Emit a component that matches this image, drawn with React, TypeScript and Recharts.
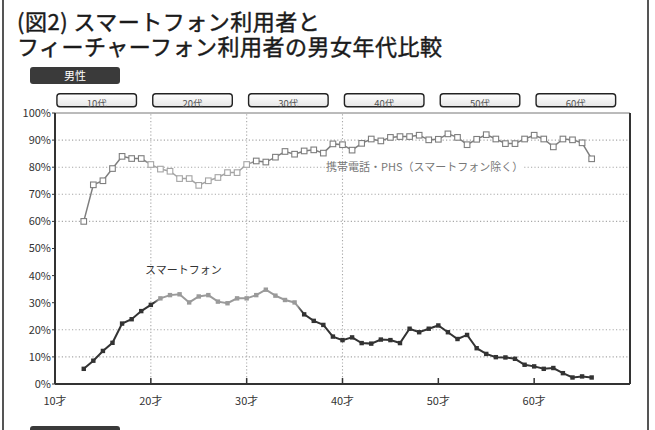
import React from 'react';
import { LineChart, Line, XAxis, YAxis, ReferenceLine, ReferenceArea } from 'recharts';

const ages = [
  13, 14, 15, 16, 17, 18, 19, 20, 21, 22, 23, 24, 25, 26, 27, 28, 29, 30,
  31, 32, 33, 34, 35, 36, 37, 38, 39, 40, 41, 42, 43, 44, 45, 46, 47, 48,
  49, 50, 51, 52, 53, 54, 55, 56, 57, 58, 59, 60, 61, 62, 63, 64, 65, 66,
];

const featurePhone = [
  60, 73.5, 75, 79.5, 84, 83.2, 83.2, 81, 79.3, 78.5, 75.8, 75.8, 73.3, 75, 76.2, 78, 78, 81,
  82.3, 81.9, 83.7, 85.8, 84.8, 86, 86.4, 85.2, 88.6, 88.3, 86.3, 88.8, 90.4, 89.7, 91, 91.3, 91.3, 91.8,
  90.1, 90.3, 92.3, 91, 88.3, 90.3, 92, 90.4, 88.7, 88.7, 90.4, 91.8, 90.4, 87.5, 90.4, 90.1, 89, 83.1,
];

const smartphone = [
  5.6, 8.6, 12.2, 15.2, 22.3, 23.9, 26.9, 29.2, 31.6, 32.8, 33.1, 30.1, 32.3, 32.8, 30.4, 29.8, 31.6, 31.6,
  32.8, 34.8, 32.6, 31.0, 30.1, 25.7, 23.3, 21.8, 17.5, 16.2, 17.2, 15.1, 14.9, 16.4, 16.2, 15.1, 20.4, 19.1,
  20.4, 21.6, 19.1, 16.6, 18.1, 13.2, 11.1, 9.9, 9.8, 9.3, 7.1, 6.5, 5.6, 5.9, 4.0, 2.4, 2.8, 2.4,
];

const yTicks = [0, 10, 20, 30, 40, 50, 60, 70, 80, 90, 100];
const xTicks = [10, 20, 30, 40, 50, 60];
const xTickLabels = ['10才', '20才', '30才', '40才', '50才', '60才'];
const bandLabels = ['10代', '20代', '30代', '40代', '50代', '60代'];
const bandStarts = [10, 20, 30, 40, 50, 60];
const gridY = [10, 20, 60, 70, 80, 90];
const gridX = [20, 30, 40];

const seriesFeatureName = '携帯電話・PHS（スマートフォン除く）';
const seriesSmartName = 'スマートフォン';

const data = ages.map((age, i) => ({ age, feature: featurePhone[i], smart: smartphone[i] }));

const FONT = '"Noto Sans CJK JP", "Noto Sans", sans-serif';

const first = ages[0];
const span = ages[ages.length - 1] - ages[0];
const off = (a: number) => `${(((a - first) / span) * 100).toFixed(2)}%`;

const SM_DARK = '#333333';
const SM_LIGHT = '#9a9a9a';
const FP_DARK = '#7e7e7e';
const FP_LIGHT = '#a4a4a4';

const smColor = (age: number) => (age >= 21 && age <= 35 ? SM_LIGHT : SM_DARK);
const fpColor = (age: number) => (age >= 20 && age <= 30 ? FP_LIGHT : FP_DARK);

const FeatureDot = (props: any) => {
  const { cx, cy, index, payload } = props;
  if (cx == null || cy == null) return <g key={`fd-${index}`} />;
  return (
    <rect
      key={`fd-${index}`}
      x={cx - 2.8}
      y={cy - 2.8}
      width={5.6}
      height={5.6}
      fill="#ffffff"
      stroke={fpColor(payload.age)}
      strokeWidth={1.1}
    />
  );
};

const SmartDot = (props: any) => {
  const { cx, cy, index, payload } = props;
  if (cx == null || cy == null) return <g key={`sd-${index}`} />;
  return (
    <rect
      key={`sd-${index}`}
      x={cx - 2.2}
      y={cy - 2.2}
      width={4.4}
      height={4.4}
      fill={smColor(payload.age)}
    />
  );
};

const makeBand = (label: string, i: number) => (p: any) => {
  const { x, y, width, height } = p;
  if (x == null || y == null) return <g />;
  const id = `bandclip-${i}`;
  return (
    <g>
      <defs>
        <clipPath id={id}>
          <rect x={x} y={y} width={width} height={height} rx={3} ry={3} />
        </clipPath>
      </defs>
      <rect x={x} y={y} width={width} height={height} rx={3} ry={3} fill="url(#bandFill)" stroke="#222" strokeWidth={1.4} />
      <text
        x={x + width / 2}
        y={y + height + 0.5}
        textAnchor="middle"
        fontSize={9.5}
        fill="#555"
        fontFamily={FONT}
        clipPath={`url(#${id})`}
      >
        {label}
      </text>
    </g>
  );
};

export default function App() {
  return (
    <div
      style={{
        position: 'absolute',
        left: 0,
        top: 0,
        width: 655,
        height: 430,
        overflow: 'hidden',
        background: '#ffffff',
        fontFamily: FONT,
      }}
    >
      {/* frame */}
      <div style={{ position: 'absolute', left: 2, top: 0, width: 1.5, height: 430, background: '#555' }} />
      <div style={{ position: 'absolute', left: 647, top: 0, width: 1.5, height: 430, background: '#555' }} />

      {/* title */}
      <div
        style={{
          position: 'absolute',
          left: 17,
          top: 8,
          fontSize: 22,
          lineHeight: '25px',
          fontWeight: 400,
          letterSpacing: 0.5,
          color: '#1a1a1a',
          WebkitTextStroke: '0.45px #1a1a1a',
          whiteSpace: 'nowrap',
        }}
      >
        <div>(図2) スマートフォン利用者と</div>
        <div>フィーチャーフォン利用者の男女年代比較</div>
      </div>

      {/* gender tag */}
      <div
        style={{
          position: 'absolute',
          left: 30,
          top: 67,
          width: 90,
          height: 17,
          borderRadius: 3,
          background: '#3a3a3a',
          color: '#fff',
          fontSize: 11,
          lineHeight: '17px',
          textAlign: 'center',
        }}
      >
        男性
      </div>
      {/* next panel tag (cut off) */}
      <div
        style={{
          position: 'absolute',
          left: 30,
          top: 426,
          width: 90,
          height: 17,
          borderRadius: 3,
          background: '#3a3a3a',
        }}
      />

      <div style={{ position: 'absolute', left: 0, top: 0 }}>
        <LineChart width={655} height={430} data={data} margin={{ top: 113, right: 25, bottom: 16, left: 0 }}>
          <defs>
            <linearGradient id="bandFill" x1="0" y1="0" x2="0" y2="1">
              <stop offset="0%" stopColor="#ffffff" />
              <stop offset="100%" stopColor="#e6e6e6" />
            </linearGradient>
            <linearGradient id="smGrad" x1="0" y1="0" x2="1" y2="0">
              <stop offset={off(20.3)} stopColor={SM_DARK} />
              <stop offset={off(20.8)} stopColor={SM_LIGHT} />
              <stop offset={off(35.3)} stopColor={SM_LIGHT} />
              <stop offset={off(35.8)} stopColor={SM_DARK} />
            </linearGradient>
            <linearGradient id="fpGrad" x1="0" y1="0" x2="1" y2="0">
              <stop offset={off(19.3)} stopColor={FP_DARK} />
              <stop offset={off(19.8)} stopColor={FP_LIGHT} />
              <stop offset={off(30.3)} stopColor={FP_LIGHT} />
              <stop offset={off(30.8)} stopColor={FP_DARK} />
            </linearGradient>
          </defs>

          <XAxis
            type="number"
            dataKey="age"
            domain={[10, 70]}
            ticks={xTicks}
            tickFormatter={(v: number) => xTickLabels[xTicks.indexOf(v)] ?? ''}
            height={30}
            tickLine={false}
            tickSize={0}
            tickMargin={13}
            axisLine={{ stroke: '#333', strokeWidth: 2 }}
            tick={{ fontSize: 11, fill: '#333', fontFamily: FONT }}
            allowDataOverflow
          />
          <YAxis
            type="number"
            domain={[0, 100]}
            ticks={yTicks}
            tickFormatter={(v: number) => `${v}%`}
            width={55}
            tickSize={3}
            tickMargin={1}
            axisLine={{ stroke: '#333', strokeWidth: 2 }}
            tickLine={{ stroke: '#333' }}
            tick={{ fontSize: 11, fill: '#333', fontFamily: FONT }}
            interval={0}
          />

          {gridY.map((v) => (
            <ReferenceLine key={`gy-${v}`} y={v} stroke="#a8a8a8" strokeWidth={1.1} strokeDasharray="1.2 2.2" />
          ))}
          {gridX.map((v) => (
            <ReferenceLine key={`gx-${v}`} x={v} stroke="#a8a8a8" strokeWidth={1.1} strokeDasharray="1.2 2.2" />
          ))}
          <ReferenceLine y={100} stroke="#777" strokeWidth={1} />
          <ReferenceLine x={70} stroke="#333" strokeWidth={2} />
          {xTicks.slice(1).map((v) => (
            <ReferenceLine
              key={`xt-${v}`}
              segment={[
                { x: v, y: 0 },
                { x: v, y: 2.2 },
              ]}
              stroke="#333"
              strokeWidth={1.5}
            />
          ))}

          {bandStarts.map((d, i) => (
            <ReferenceArea
              key={`band-${d}`}
              x1={d + 0.2}
              x2={d + 8.5}
              y1={102.3}
              y2={107.1}
              ifOverflow="visible"
              shape={makeBand(bandLabels[i], i)}
            />
          ))}

          <Line
            type="linear"
            dataKey="feature"
            stroke="url(#fpGrad)"
            strokeWidth={1.5}
            dot={FeatureDot}
            activeDot={false}
            isAnimationActive={false}
          />
          <Line
            type="linear"
            dataKey="smart"
            stroke="url(#smGrad)"
            strokeWidth={2}
            dot={SmartDot}
            activeDot={false}
            isAnimationActive={false}
          />
        </LineChart>
      </div>

      {/* series labels */}
      <div
        style={{
          position: 'absolute',
          left: 325,
          top: 159,
          fontSize: 11,
          lineHeight: '14px',
          color: '#777',
          background: '#fff',
          padding: '0 1px',
          whiteSpace: 'nowrap',
        }}
      >
        {seriesFeatureName}
      </div>
      <div
        style={{
          position: 'absolute',
          left: 145,
          top: 262,
          fontSize: 11,
          lineHeight: '14px',
          color: '#333',
          whiteSpace: 'nowrap',
        }}
      >
        {seriesSmartName}
      </div>
    </div>
  );
}
